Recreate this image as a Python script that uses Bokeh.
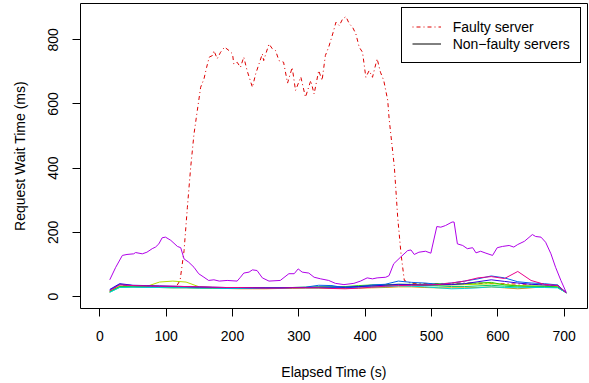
from bokeh.plotting import figure
from bokeh.models import Range1d, FixedTicker, Legend, LegendItem
from bokeh.embed import file_html
from bokeh.resources import INLINE

# ---------------- data ----------------
x_ticks = [0, 100, 200, 300, 400, 500, 600, 700]
y_ticks = [0, 200, 400, 600, 800]

faulty_t = [15, 30, 60, 90, 115, 121, 127, 132, 137, 142, 147, 152, 157, 161, 165,
            170, 172, 177, 182, 188, 195, 200, 202, 207, 212, 217, 222, 230, 235, 240,
            245, 247, 255, 260, 265, 270, 277, 283, 290, 295, 303, 310, 318, 323, 330,
            335, 340, 345, 351, 356, 361, 366, 371, 376, 381, 386, 391, 396, 401, 406,
            411, 418, 423, 428, 434, 436, 444, 449, 454, 459, 470, 500, 550, 600, 650,
            690, 703]
faulty_v = [18, 36, 33, 31, 30, 50, 143, 278, 403, 507, 580, 652, 678, 714, 746,
            751, 766, 741, 761, 777, 766, 756, 725, 730, 714, 746, 704, 652, 694, 725,
            756, 735, 787, 772, 766, 735, 730, 665, 714, 642, 684, 621, 673, 631, 704,
            673, 751, 777, 818, 855, 844, 865, 872, 850, 839, 818, 777, 761, 683, 704,
            683, 741, 699, 673, 611, 556, 403, 247, 133, 50, 40, 40, 42, 40, 38,
            35, 12]

purple_t = [15, 24, 34, 41, 51, 54, 64, 71, 79, 84, 89, 94, 99, 107, 117, 122, 127,
            134, 142, 149, 157, 164, 172, 180, 192, 207, 212, 217, 225, 230, 237, 245,
            255, 272, 285, 293, 299, 305, 315, 323, 333, 345, 355, 368, 383, 393, 403,
            411, 418, 431, 436, 443, 453, 464, 469, 474, 481, 491, 499, 501, 508, 514,
            521, 531, 534, 539, 547, 554, 562, 567, 574, 582, 592, 599, 607, 617, 624,
            630, 640, 652, 657, 665, 672, 680, 687, 695, 703]
purple_v = [52, 91, 128, 131, 133, 137, 133, 138, 149, 154, 164, 183, 185, 175, 156, 152, 117,
            107, 91, 71, 60, 50, 52, 48, 50, 48, 60, 73, 76, 83, 81, 58,
            48, 50, 71, 71, 86, 76, 73, 60, 55, 50, 41, 37, 41, 48, 58,
            55, 58, 60, 65, 102, 122, 143, 145, 131, 138, 141, 135, 154, 218, 216,
            221, 232, 232, 164, 159, 149, 152, 136, 141, 135, 128, 152, 156, 159, 154,
            162, 172, 193, 187, 185, 169, 133, 91, 50, 13]

low_t = [15, 30, 50, 70, 90, 110, 130, 150, 170, 190, 210, 230, 250, 270, 290, 310, 330, 350,
         370, 390, 410, 430, 450, 470, 490, 510, 530, 550, 570, 590, 610, 630, 650, 670, 690, 703]
orange_v = [14, 30, 30, 29, 28, 27, 27, 26, 25, 25, 24, 24, 24, 25, 25, 26, 26, 25,
            25, 26, 27, 28, 30, 30, 28, 27, 27, 27, 28, 30, 27, 24, 27, 30, 28, 12]
lime_v = [16, 32, 32, 31, 45, 48, 45, 30, 28, 27, 26, 26, 27, 27, 28, 28, 28, 28,
          29, 30, 31, 32, 36, 36, 35, 35, 36, 37, 38, 40, 38, 34, 33, 32, 30, 12]
green_v = [15, 31, 31, 30, 30, 29, 28, 28, 27, 27, 26, 26, 27, 28, 28, 29, 30, 30,
           31, 34, 36, 37, 38, 38, 38, 40, 38, 40, 42, 44, 36, 33, 32, 32, 30, 12]
spring_v = [14, 29, 30, 29, 29, 28, 28, 27, 27, 26, 26, 26, 27, 27, 28, 28, 29, 30,
            30, 32, 33, 34, 36, 36, 34, 33, 31, 31, 33, 35, 32, 30, 30, 30, 28, 12]
cyan_v = [13, 28, 29, 28, 28, 27, 27, 26, 26, 25, 25, 25, 26, 26, 27, 27, 27, 28,
          28, 29, 30, 30, 33, 32, 30, 27, 24, 25, 27, 30, 28, 27, 28, 28, 27, 12]
blue_v = [20, 38, 34, 33, 32, 31, 30, 29, 28, 27, 27, 26, 27, 27, 28, 29, 35, 34,
          27, 30, 36, 38, 48, 44, 42, 38, 42, 48, 55, 64, 58, 46, 42, 40, 36, 12]
indigo_v = [22, 40, 35, 34, 33, 32, 31, 30, 29, 28, 28, 28, 27, 27, 28, 28, 29, 29,
            29, 31, 33, 35, 38, 37, 36, 37, 37, 40, 46, 52, 47, 42, 38, 36, 34, 12]
pink_v = [18, 36, 34, 33, 32, 32, 31, 30, 29, 28, 28, 27, 26, 26, 27, 27, 27, 25,
          24, 26, 29, 32, 34, 35, 36, 37, 42, 48, 58, 62, 56, 78, 50, 38, 34, 12]

low_series = [
    (orange_v, "#E89000"),
    (lime_v, "#B4DC00"),
    (green_v, "#30CC00"),
    (spring_v, "#00CC66"),
    (cyan_v, "#00D4D4"),
    (blue_v, "#0064E8"),
    (indigo_v, "#3000E0"),
    (pink_v, "#E8008C"),
]

FONT = "Liberation Sans"

p = figure(width=589, height=383, output_backend="svg", toolbar_location=None,
           x_range=Range1d(-29.1, 735.1), y_range=Range1d(-37.4, 913.0),
           min_border_left=80, min_border_right=2, min_border_top=3, min_border_bottom=75)

p.background_fill_color = "white"
p.border_fill_color = "white"
p.outline_line_color = "black"
p.outline_line_width = 1
p.outline_line_alpha = 1
p.xgrid.visible = False
p.ygrid.visible = False

for ax in (p.xaxis[0], p.yaxis[0]):
    ax.axis_line_color = None
    ax.major_tick_line_color = "black"
    ax.major_tick_in = 0
    ax.major_tick_out = 8
    ax.minor_tick_line_color = None
    ax.major_label_text_font = FONT
    ax.major_label_text_font_size = "14px"
    ax.major_label_text_color = "black"
    ax.axis_label_text_font = FONT
    ax.axis_label_text_font_size = "14px"
    ax.axis_label_text_font_style = "normal"
    ax.axis_label_text_color = "black"

p.xaxis.ticker = FixedTicker(ticks=x_ticks)
p.yaxis.ticker = FixedTicker(ticks=y_ticks)
p.xaxis.axis_label = "Elapsed Time (s)"
p.yaxis.axis_label = "Request Wait Time (ms)"
p.xaxis.major_label_standoff = 14
p.xaxis.axis_label_standoff = 20
p.yaxis.major_label_orientation = "vertical"
p.yaxis.major_label_standoff = 14
p.yaxis.axis_label_standoff = 18

r_faulty = p.line(faulty_t, faulty_v, line_color="#DD0000", line_width=1, line_dash="1 3 4 3")
for vals, col in low_series:
    p.line(low_t, vals, line_color=col, line_width=1)
p.line(purple_t, purple_v, line_color="#B000E8", line_width=1)

# legend key for the non-faulty servers (no visible points)
r_key = p.line(x=[0], y=[float("nan")], line_color="black", line_width=1)

legend = Legend(items=[LegendItem(label="Faulty server", renderers=[r_faulty]),
                       LegendItem(label="Non\u2212faulty servers", renderers=[r_key])],
                location=(320.7, 244.7))
legend.border_line_color = "black"
legend.border_line_width = 1
legend.border_line_alpha = 1
legend.background_fill_color = "white"
legend.background_fill_alpha = 1
legend.padding = 10
legend.spacing = 0
legend.margin = 0
legend.glyph_width = 29
legend.glyph_height = 17
legend.label_height = 17
legend.label_standoff = 12
legend.label_text_font = FONT
legend.label_text_font_size = "14px"
legend.label_text_color = "black"
p.add_layout(legend, "center")

open("out.html", "w").write(file_html(p, INLINE))
